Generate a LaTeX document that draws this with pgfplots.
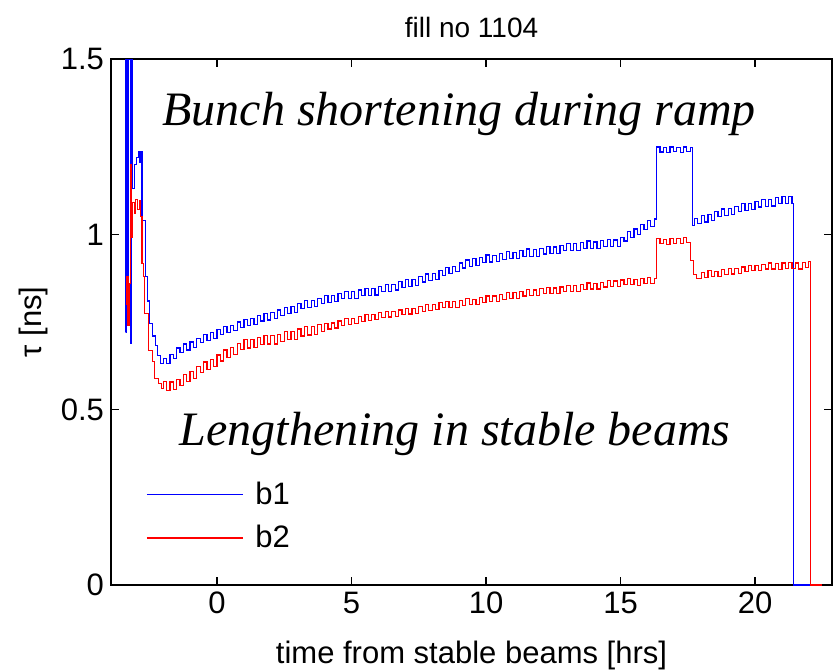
\documentclass[border=0pt]{standalone}
\usepackage{fontspec}
\setmainfont{Liberation Sans}
\newfontfamily\timesfont{Liberation Serif}
\usepackage{pgfplots}
\pgfplotsset{compat=1.18}
\begin{document}
\begin{tikzpicture}
\begin{axis}[
  name=ax,
  scale only axis, width=360.5pt, height=263pt,
  xmin=-3.94, xmax=22.86, ymin=0, ymax=1.5,
  xtick={0,5,10,15,20}, ytick={0,0.5,1,1.5},
  tick align=inside, major tick length=4pt,
  tick label style={font=\fontsize{15.5}{18}\selectfont},
  /pgf/number format/assume math mode=true,
  axis line style={line width=0.6pt},
  every tick/.style={black, line width=0.6pt},
  legend style={draw=none, fill=none, at={(rel axis cs:0.04,0.212)}, anchor=north west,
    font=\fontsize{15.5}{18}\selectfont, row sep=5pt},
  legend cell align=left,
  legend image code/.code={\draw[#1] (0pt,0pt) -- (48pt,0pt); \path (52pt,0pt);},
]
\addplot[const plot, blue, line width=0.6pt] coordinates {
(-3.40,0.72) (-3.38,1.5) (-3.33,0.80) (-3.29,1.5) (-3.22,0.69) (-3.19,1.5) (-3.14,1.13) (-3.08,1.20) (-3.00,1.22) (-2.93,1.235) (-2.88,1.205) (-2.84,1.235) (-2.79,1.04) (-2.66,0.88) (-2.58,0.81) (-2.50,0.746) (-2.40,0.71) (-2.30,0.683) (-2.20,0.655) (-2.10,0.632)
(-2.000,0.645) (-1.875,0.632) (-1.750,0.658) (-1.625,0.646) (-1.500,0.676) (-1.375,0.663) (-1.250,0.687) (-1.125,0.670)
(-1.000,0.693) (-0.875,0.678) (-0.750,0.704) (-0.625,0.691) (-0.500,0.715) (-0.375,0.698) (-0.250,0.720) (-0.125,0.704)
(0.000,0.729) (0.125,0.715) (0.250,0.738) (0.375,0.720) (0.500,0.741) (0.625,0.725) (0.750,0.750) (0.875,0.735)
(1.000,0.758) (1.125,0.739) (1.250,0.760) (1.375,0.743) (1.500,0.768) (1.625,0.753) (1.750,0.775) (1.875,0.756)
(2.000,0.777) (2.125,0.760) (2.250,0.784) (2.375,0.769) (2.500,0.792) (2.625,0.774) (2.750,0.795) (2.875,0.778)
(3.000,0.803) (3.125,0.788) (3.250,0.811) (3.375,0.792) (3.500,0.812) (3.625,0.794) (3.750,0.818) (3.875,0.803)
(4.000,0.825) (4.125,0.805) (4.250,0.825) (4.375,0.808) (4.500,0.832) (4.625,0.816) (4.750,0.837) (4.875,0.817)
(5.000,0.836) (5.125,0.818) (5.250,0.841) (5.375,0.825) (5.500,0.846) (5.625,0.826) (5.750,0.845) (5.875,0.827)
(6.000,0.851) (6.125,0.836) (6.250,0.858) (6.375,0.838) (6.500,0.858) (6.625,0.841) (6.750,0.865) (6.875,0.849)
(7.000,0.871) (7.125,0.852) (7.250,0.872) (7.375,0.855) (7.500,0.879) (7.625,0.864) (7.750,0.887) (7.875,0.868)
(8.000,0.889) (8.125,0.872) (8.250,0.897) (8.375,0.883) (8.500,0.906) (8.625,0.888) (8.750,0.909) (8.875,0.893)
(9.000,0.918) (9.125,0.904) (9.250,0.927) (9.375,0.909) (9.500,0.930) (9.625,0.912) (9.750,0.935) (9.875,0.919)
(10.000,0.941) (10.125,0.921) (10.250,0.940) (10.375,0.922) (10.500,0.945) (10.625,0.929) (10.750,0.951) (10.875,0.930)
(11.000,0.949) (11.125,0.930) (11.250,0.953) (11.375,0.937) (11.500,0.958) (11.625,0.937) (11.750,0.956) (11.875,0.937)
(12.000,0.960) (12.125,0.944) (12.250,0.965) (12.375,0.945) (12.500,0.964) (12.625,0.946) (12.750,0.969) (12.875,0.953)
(13.000,0.974) (13.125,0.954) (13.250,0.973) (13.375,0.954) (13.500,0.977) (13.625,0.960) (13.750,0.981) (13.875,0.960)
(14.000,0.978) (14.125,0.959) (14.250,0.982) (14.375,0.965) (14.500,0.986) (14.625,0.965) (14.750,0.984) (14.875,0.966)
(15.000,0.990) (15.125,0.981) (15.250,1.009) (15.375,0.992) (15.500,1.015) (15.625,1.000) (15.750,1.027) (15.875,1.014)
(16.000,1.039) (16.125,1.022) (16.250,1.044)
(16.340,1.249) (16.465,1.235) (16.590,1.248) (16.715,1.233) (16.840,1.249) (16.965,1.236) (17.090,1.248) (17.215,1.234) (17.340,1.249) (17.465,1.236) (17.590,1.247)
(17.680,1.026) (17.750,1.045) (17.875,1.030)
(18.000,1.053) (18.125,1.035) (18.250,1.056) (18.375,1.040) (18.500,1.065) (18.625,1.050) (18.750,1.072) (18.875,1.053)
(19.000,1.073) (19.125,1.056) (19.250,1.080) (19.375,1.065) (19.500,1.087) (19.625,1.068) (19.750,1.088) (19.875,1.070)
(20.000,1.094) (20.125,1.078) (20.250,1.100) (20.375,1.080) (20.500,1.099) (20.625,1.081) (20.750,1.104) (20.875,1.088)
(21.000,1.109) (21.125,1.088) (21.250,1.107) (21.375,1.088)
(21.430,0) (22.50,0)
};
\addlegendentry{b1}
\addplot[const plot, red, line width=0.6pt] coordinates {
(-3.40,0.80) (-3.36,0.88) (-3.31,0.74) (-3.26,0.86) (-3.23,1.20) (-3.19,0.99) (-3.14,1.09) (-3.08,1.06) (-3.02,1.10) (-2.95,1.07) (-2.89,1.095) (-2.84,1.05) (-2.79,0.916) (-2.72,0.88) (-2.68,0.774) (-2.54,0.669) (-2.40,0.637) (-2.33,0.589) (-2.18,0.575) (-2.05,0.560)
(-2.000,0.580) (-1.875,0.555) (-1.750,0.579) (-1.625,0.557) (-1.500,0.587) (-1.375,0.570) (-1.250,0.600) (-1.125,0.580)
(-1.000,0.609) (-0.875,0.589) (-0.750,0.622) (-0.625,0.605) (-0.500,0.636) (-0.375,0.615) (-0.250,0.643) (-0.125,0.623)
(0.000,0.656) (0.125,0.639) (0.250,0.670) (0.375,0.649) (0.500,0.677) (0.625,0.657) (0.750,0.689) (0.875,0.671)
(1.000,0.701) (1.125,0.676) (1.250,0.701) (1.375,0.677) (1.500,0.706) (1.625,0.685) (1.750,0.712) (1.875,0.687)
(2.000,0.711) (2.125,0.687) (2.250,0.715) (2.375,0.695) (2.500,0.723) (2.625,0.699) (2.750,0.724) (2.875,0.701)
(3.000,0.730) (3.125,0.710) (3.250,0.737) (3.375,0.713) (3.500,0.738) (3.625,0.714) (3.750,0.743) (3.875,0.723)
(4.000,0.746) (4.125,0.730) (4.250,0.747) (4.375,0.733) (4.500,0.753) (4.625,0.740) (4.750,0.759) (4.875,0.743)
(5.000,0.760) (5.125,0.745) (5.250,0.765) (5.375,0.752) (5.500,0.771) (5.625,0.755) (5.750,0.772) (5.875,0.757)
(6.000,0.776) (6.125,0.762) (6.250,0.780) (6.375,0.764) (6.500,0.780) (6.625,0.765) (6.750,0.784) (6.875,0.771)
(7.000,0.789) (7.125,0.773) (7.250,0.789) (7.375,0.774) (7.500,0.794) (7.625,0.781) (7.750,0.799) (7.875,0.783)
(8.000,0.800) (8.125,0.785) (8.250,0.805) (8.375,0.791) (8.500,0.809) (8.625,0.792) (8.750,0.808) (8.875,0.792)
(9.000,0.811) (9.125,0.798) (9.250,0.816) (9.375,0.799) (9.500,0.815) (9.625,0.800) (9.750,0.819) (9.875,0.806)
(10.000,0.824) (10.125,0.808) (10.250,0.824) (10.375,0.809) (10.500,0.828) (10.625,0.815) (10.750,0.833) (10.875,0.817)
(11.000,0.833) (11.125,0.818) (11.250,0.837) (11.375,0.824) (11.500,0.842) (11.625,0.825) (11.750,0.841) (11.875,0.826)
(12.000,0.845) (12.125,0.831) (12.250,0.849) (12.375,0.832) (12.500,0.847) (12.625,0.831) (12.750,0.850) (12.875,0.836)
(13.000,0.854) (13.125,0.837) (13.250,0.853) (13.375,0.838) (13.500,0.857) (13.625,0.843) (13.750,0.861) (13.875,0.844)
(14.000,0.860) (14.125,0.844) (14.250,0.863) (14.375,0.850) (14.500,0.868) (14.625,0.851) (14.750,0.867) (14.875,0.851)
(15.000,0.870) (15.125,0.856) (15.250,0.873) (15.375,0.856) (15.500,0.871) (15.625,0.855) (15.750,0.873) (15.875,0.859)
(16.000,0.877) (16.125,0.860) (16.250,0.875)
(16.340,0.988) (16.465,0.974) (16.590,0.986) (16.715,0.972) (16.840,0.989) (16.965,0.975) (17.090,0.987) (17.215,0.973) (17.340,0.990) (17.465,0.976)
(17.600,0.925) (17.710,0.886) (17.835,0.873)
(18.000,0.891) (18.125,0.878) (18.250,0.896) (18.375,0.879) (18.500,0.895) (18.625,0.880) (18.750,0.899) (18.875,0.885)
(19.000,0.903) (19.125,0.887) (19.250,0.903) (19.375,0.888) (19.500,0.907) (19.625,0.894) (19.750,0.912) (19.875,0.896)
(20.000,0.912) (20.125,0.896) (20.250,0.915) (20.375,0.901) (20.500,0.918) (20.625,0.901) (20.750,0.916) (20.875,0.900)
(21.000,0.918) (21.125,0.903) (21.250,0.920) (21.375,0.903) (21.500,0.918) (21.625,0.901) (21.750,0.919) (21.875,0.905)
(22.000,0.922) (22.060,0) (22.50,0)
};
\addlegendentry{b2}
\node[anchor=base, font=\timesfont\itshape\fontsize{24}{28}\selectfont] at (axis cs:9.0,1.309) {Bunch shortening during ramp};
\node[anchor=base, font=\timesfont\itshape\fontsize{24}{28}\selectfont] at (axis cs:8.85,0.399) {Lengthening in stable beams};
\end{axis}
\node[anchor=base, yshift=10.5pt, font=\fontsize{14}{17}\selectfont] at (ax.north) {fill no 1104};
\node[anchor=base, yshift=-39pt, font=\fontsize{15.5}{18}\selectfont] at (ax.south) {time from stable beams [hrs]};
\node[rotate=90, font=\fontsize{15.5}{18}\selectfont] at ([xshift=-39pt]ax.west) {τ [ns]};
\pgfresetboundingbox
\useasboundingbox ([xshift=-55.5pt,yshift=-43pt]ax.south west) rectangle ([xshift=1.5pt,yshift=29.5pt]ax.north east);
\end{tikzpicture}
\end{document}
